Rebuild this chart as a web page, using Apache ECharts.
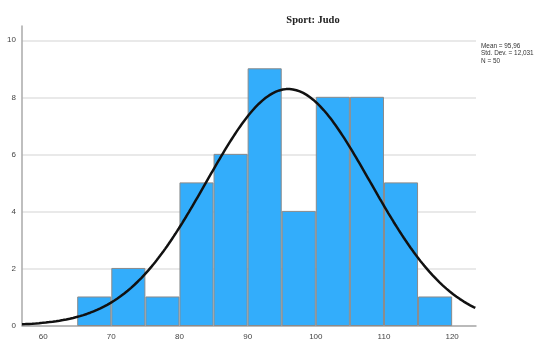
<!DOCTYPE html>
<html>
<head>
<meta charset="utf-8">
<script src="https://cdn.jsdelivr.net/npm/echarts@6/dist/echarts.min.js"></script>
<style>html,body{margin:0;padding:0;background:#fff;}#c{width:554px;height:345px;}</style>
</head>
<body>
<div id="c"></div>
<script>
// Histogram bins (lower edge), width 5
const binStarts = [65, 70, 75, 80, 85, 90, 95, 100, 105, 110, 115];
const counts    = [1, 2, 1, 5, 6, 9, 4, 8, 8, 5, 1];
const binWidth = 5;
// Summary statistics shown in the chart
const meanVal = 95.96;
const sdVal = 12.031;
const nVal = 50;
// Tick labels
const xTicks = [60, 70, 80, 90, 100, 110, 120];
const yTicks = [0, 2, 4, 6, 8, 10];

const xMin = 56.9, xMax = 123.5;

// Fitted normal curve scaled to counts (mean, sd, N from the stats box)
const curve = [];
for (let x = xMin; x <= xMax + 1e-9; x += 0.25) {
  const z = (x - meanVal) / sdVal;
  curve.push([x, nVal * binWidth / (sdVal * Math.sqrt(2 * Math.PI)) * Math.exp(-0.5 * z * z)]);
}

const barData = binStarts.map((s, i) => [s, s + binWidth, counts[i]]);

const chart = echarts.init(document.getElementById('c'), null, {renderer: 'canvas'});
chart.setOption({
  animation: false,
  backgroundColor: '#ffffff',
  title: {
    text: 'Sport: Judo',
    left: 308, top: 10, textAlign: 'center',
    textStyle: {fontFamily: 'Liberation Serif', fontWeight: 'bold', fontSize: 10.5, color: '#222'}
  },
  graphic: [{
    type: 'text', left: 481, top: 42,
    style: {
      text: 'Mean = 95,96\nStd. Dev. = 12,031\nN = 50',
      font: '6.4px "Liberation Sans"', fill: '#333', lineHeight: 7.5
    }
  }],
  grid: {left: 22, right: 78, top: 26, bottom: 19.5},
  xAxis: {
    type: 'value', min: xMin, max: xMax,
    axisLine: {show: true, onZero: false, lineStyle: {color: '#aaaaaa', width: 1.5}},
    axisTick: {show: false},
    splitLine: {show: false},
    axisLabel: {customValues: xTicks, color: '#444', fontSize: 8, fontFamily: 'Liberation Sans', margin: 7}
  },
  yAxis: {
    type: 'value', min: 0, max: 10.5, interval: 2,
    axisLine: {show: true, lineStyle: {color: '#aaaaaa', width: 1.5}},
    axisTick: {show: false},
    splitLine: {show: true, showMaxLine: false, lineStyle: {color: '#e2e2e2', width: 1.5}},
    axisLabel: {customValues: yTicks, color: '#444', fontSize: 8, fontFamily: 'Liberation Sans', margin: 6}
  },
  series: [
    {
      type: 'custom',
      data: barData,
      renderItem: function (params, api) {
        const p0 = api.coord([api.value(0), api.value(2)]);
        const p1 = api.coord([api.value(1), 0]);
        return {
          type: 'rect',
          shape: {x: p0[0] + 0.5, y: p0[1], width: p1[0] - p0[0] - 1, height: p1[1] - p0[1]},
          style: {fill: '#33adfb', stroke: '#8a8a8a', lineWidth: 1}
        };
      },
      z: 2
    },
    {
      type: 'line', data: curve, showSymbol: false, smooth: false,
      lineStyle: {color: '#111', width: 2.5}, z: 3
    }
  ]
});
</script>
</body>
</html>
